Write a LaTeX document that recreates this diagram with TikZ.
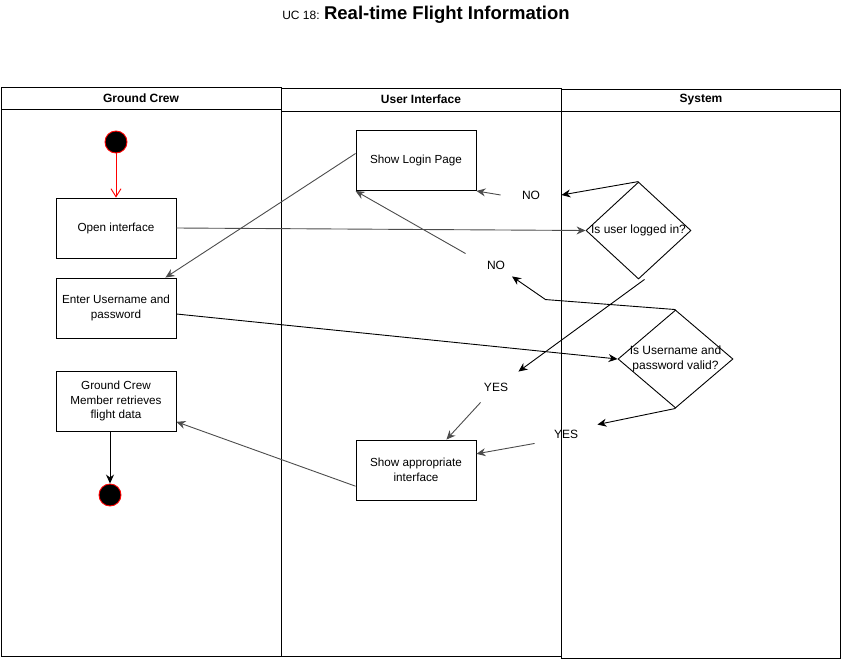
\documentclass[tikz,border=0pt]{standalone}
\usepackage{fontspec}
\setmainfont{Liberation Sans}
\usetikzlibrary{arrows.meta}
\usetikzlibrary{shapes.geometric}

\begin{document}
\begin{tikzpicture}[x=1pt,y=-1pt,line width=0.9pt,
	box/.style={draw,minimum width=120pt,minimum height=60pt,inner sep=2pt,align=center,font=\fontsize{11.7}{14.5}\selectfont},
	decision/.style={draw,diamond,inner sep=0pt},
	tag/.style={inner sep=0pt,font=\fontsize{12}{14.5}\selectfont},
	lanehead/.style={font=\bfseries\fontsize{12}{14}\selectfont},
	dot/.style={circle,draw=red,fill=black,minimum size=22pt,inner sep=0pt},
	arr/.style={-{Stealth[length=9pt,width=8pt]}},
	garr/.style={arr,draw=black!70}]

	\useasboundingbox (0,0) rectangle (841,659);

	% Title
	\node (title) at (426,15) {{\fontsize{12}{14}\selectfont UC 18: }{\bfseries\fontsize{18.5}{20}\selectfont Real-time Flight Information}};

	% Lanes
	\draw (1,87) rectangle (281,656);
	\draw (1,109.5) -- (281,109.5);
	\draw (281,88) rectangle (561,656);
	\draw (281,111) -- (561,111);
	\draw (561,89) rectangle (840,658);
	\draw (561,111) -- (840,111);
	\node[lanehead] (crewlane) at (141,98) {Ground Crew};
	\node[lanehead] (uilane) at (421,99.5) {User Interface};
	\node[lanehead] (syslane) at (701,100) {System};

	% Nodes
	\node[dot] (start) at (116,142) {};
	\node[box] (open) at (116,228) {Open interface};
	\node[box] (enter) at (116,308) {Enter Username and\\password};
	\node[box] (crew) at (116,401) {Ground Crew\\Member retrieves\\flight data};
	\node[dot] (stop) at (110,495) {};
	\node[box] (login) at (416,160.5) {Show Login Page};
	\node[box] (show) at (416,470) {Show appropriate\\interface};
	\node[decision,minimum width=105pt,minimum height=97pt,label={[tag]center:Is user logged in?}] (logged) at (638.5,230.5) {};
	\node[decision,minimum width=115pt,minimum height=98pt,label={[tag,align=center]center:{Is Username and\\password valid?}}] (valid) at (675.5,359) {};
	\node[tag,minimum width=60pt,minimum height=10pt] (no1) at (531,195) {NO};
	\node[tag,minimum width=60pt,minimum height=22pt] (no2) at (496,265) {NO};
	\node[tag,minimum width=44pt,minimum height=30pt] (yes1) at (496,387) {YES};
	\node[tag,minimum width=62pt,minimum height=18pt] (yes2) at (566,434) {YES};

	% Arrows
	\draw[red,-{Straight Barb[length=8pt,width=10pt]}] (start) -- (open);
	\draw[garr] (open.east) -- (logged.west);
	\draw[arr] (logged.north) -- (no1.east);
	\draw[garr] (no1.west) -- (login.south east);
	\draw[garr] ([yshift=7pt]login.west) -- ([xshift=-11pt]enter.north east);
	\draw[arr] ([yshift=-6pt]enter.east) -- (valid.west);
	\draw[arr] ([xshift=6pt]logged.south) -- (yes1.north east);
	\draw[garr] ([xshift=7pt]yes1.south west) -- ([xshift=-30pt]show.north east);
	\draw[arr] (valid.north) -- ++(-130,-10) -- ([xshift=16pt]no2.south);
	\draw[garr] (no2.north west) -- (login.south west);
	\draw[arr] (valid.south) -- (yes2.north east);
	\draw[garr] (yes2.south west) -- (show.15);
	\draw[garr] (show.195) -- (crew.341);
	\draw[arr] (crew.south -| stop.north) -- (stop.north);
\end{tikzpicture}
\end{document}
